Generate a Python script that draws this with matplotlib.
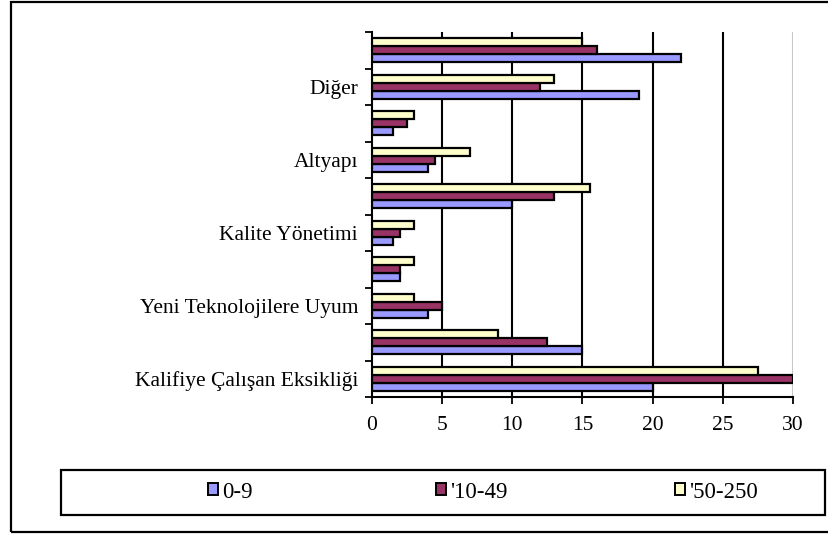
import matplotlib
matplotlib.use("Agg")
import matplotlib.pyplot as plt
from matplotlib.patches import Rectangle, Patch
import numpy as np

plt.rcParams['font.family'] = ['Liberation Serif', 'DejaVu Serif']

# data (bottom category first)
labels = ["Kalifiye Çalışan Eksikliği", "", "Yeni Teknolojilere Uyum", "",
          "Kalite Yönetimi", "", "Altyapı", "", "Diğer", ""]
s_0_9 = [20, 15, 4, 2, 1.5, 10, 4, 1.5, 19, 22]
s_10_49 = [30, 12.5, 5, 2, 2, 13, 4.5, 2.5, 12, 16]
s_50_250 = [27.5, 9, 3, 3, 3, 15.5, 7, 3, 13, 15]
series_names = ["0-9", "'10-49", "'50-250"]
colors = ["#9999FF", "#993366", "#FFFFCC"]
xticks = [0, 5, 10, 15, 20, 25, 30]

W, H = 829, 536
fs = 15.5
fig = plt.figure(figsize=(W/100, H/100), dpi=100)

# outer chart frame (right side runs off the picture)
fig.add_artist(Rectangle((11/W, (H-532)/H), (845-11)/W, (532-2)/H,
                         transform=fig.transFigure, fill=False,
                         lw=1.6, ec='black', clip_on=False))
# legend box
fig.add_artist(Rectangle((61/W, (H-515)/H), (825-61)/W, (515-470)/H,
                         transform=fig.transFigure, fill=False,
                         lw=1.6, ec='black', clip_on=False))

ax = fig.add_axes([372/W, (H-397)/H, (793-372)/W, (397-32)/H])

y = np.arange(len(labels))
bh = 0.22
for k, vals in enumerate([s_0_9, s_10_49, s_50_250]):
    ax.barh(y + (k-1)*bh, vals, height=bh, color=colors[k],
            edgecolor='black', linewidth=1.6, zorder=3)

ax.set_xlim(0, 30)
ax.set_ylim(-0.5, len(labels)-0.5)

for xv in xticks[1:-1]:
    ax.axvline(xv, color='black', lw=1.5, zorder=1)
ax.axvline(30, color='#c8c8c8', lw=1.5, zorder=1)

ax.set_xticks(xticks)
ax.set_xticklabels([str(v) for v in xticks], fontsize=fs)
ax.tick_params(axis='x', direction='out', length=5, width=1.3, pad=9)

ax.set_yticks(np.arange(-0.5, len(labels), 1.0))
ax.set_yticklabels([])
ax.tick_params(axis='y', which='major', direction='out', length=5, width=1.3)
ax.set_yticks(y, minor=True)
ax.set_yticklabels(labels, minor=True, fontsize=fs)
ax.tick_params(axis='y', which='minor', length=0, pad=10)

for sp in ['top', 'right']:
    ax.spines[sp].set_visible(False)
ax.spines['left'].set_linewidth(1.5)
ax.spines['bottom'].set_linewidth(1.5)

# legend entries, one per series (fig.legend registers each one itself)
leg_x = [208, 436, 675]
for c, name, lx in zip(colors, series_names, leg_x):
    h = Patch(facecolor=c, edgecolor='black', lw=1.4)
    fig.legend([h], [name], loc='center left',
               bbox_to_anchor=(lx/W, (H-492)/H),
               fontsize=16.5, frameon=False,
               handlelength=0.45, handleheight=0.45, handletextpad=0.15,
               borderpad=0, borderaxespad=0)

fig.savefig("out.png", dpi=100)
